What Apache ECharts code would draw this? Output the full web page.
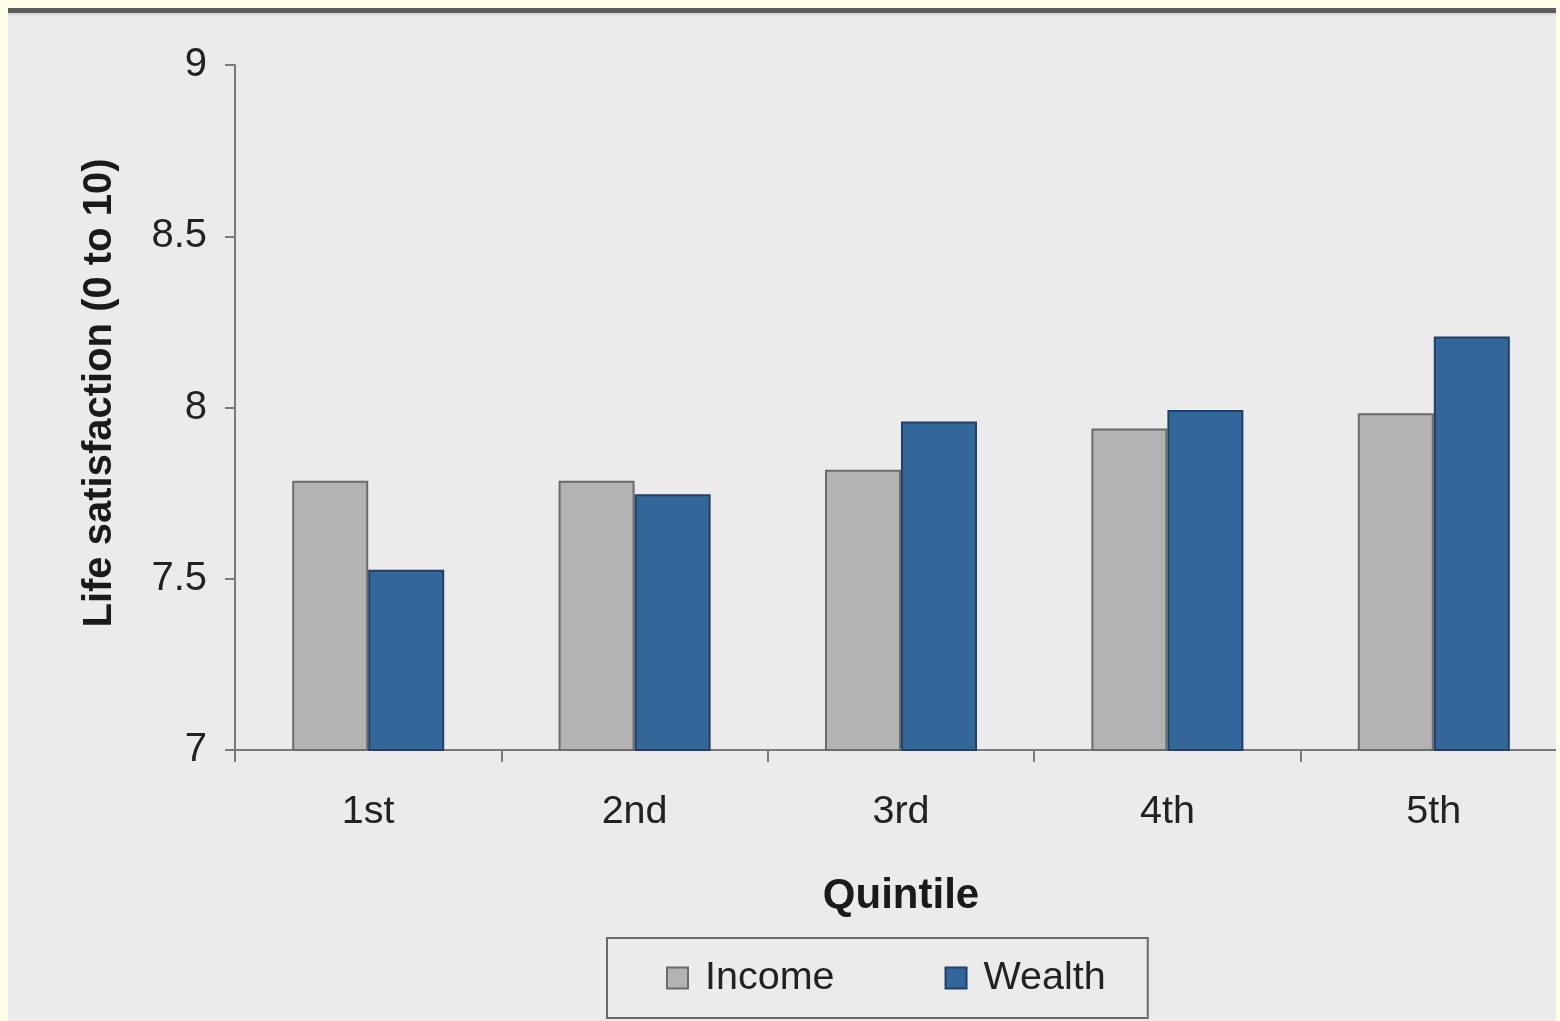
<!DOCTYPE html>
<html>
<head>
<meta charset="utf-8">
<script src="https://cdn.jsdelivr.net/npm/echarts@6/dist/echarts.min.js"></script>
<style>
html,body{margin:0;padding:0;background:#fefde7;overflow:hidden;}
#c{width:1600px;height:1021px;}
</style>
</head>
<body>
<div id="c"></div>
<script>
const categories = ['1st', '2nd', '3rd', '4th', '5th'];
const incomeValues = [7.786, 7.786, 7.818, 7.939, 7.983];
const wealthValues = [7.526, 7.747, 7.959, 7.993, 8.207];
const yTicks = [7, 7.5, 8, 8.5, 9];
const yTitle = 'Life satisfaction (0 to 10)';
const xTitle = 'Quintile';

const FONT = '"Liberation Sans", Arial, sans-serif';
const chart = echarts.init(document.getElementById('c'), null, {renderer: 'canvas'});
chart.setOption({
  backgroundColor: '#fefde7',
  animation: false,
  graphic: [
    {type: 'rect', z: -10, silent: true, shape: {x: 8, y: 13, width: 1548, height: 1010}, style: {fill: '#ebebeb'}},
    {type: 'rect', z: -9, silent: true, shape: {x: 8, y: 8, width: 1548, height: 5}, style: {fill: '#5c5c5c'}},
    {type: 'rect', z: -9, silent: true, shape: {x: 8, y: 13, width: 1548, height: 2}, style: {fill: '#d8d8d8'}},
    {type: 'rect', z: 100, silent: true, shape: {x: 1556, y: 0, width: 50, height: 1021}, style: {fill: '#fefde7'}},
    {type: 'text', z: 10, silent: true, x: 100, y: 393, rotation: Math.PI / 2,
      style: {text: yTitle, font: 'bold 40px ' + FONT, fill: '#1a1a1a', textAlign: 'center', textVerticalAlign: 'middle'}}
  ],
  grid: {left: 235, top: 65, width: 1332, bottom: 271, containLabel: false},
  legend: {
    left: 607, top: 938,
    data: ['Income', 'Wealth'],
    icon: 'rect',
    itemWidth: 21, itemHeight: 21,
    itemGap: 110,
    padding: [20, 42, 20, 59],
    borderColor: '#6a6a6a', borderWidth: 2,
    backgroundColor: '#ebebeb',
    textStyle: {fontFamily: FONT, fontSize: 39.5, color: '#222', lineHeight: 40, padding: [0, 0, 0, 12]}
  },
  xAxis: {
    type: 'category',
    data: categories,
    name: xTitle,
    nameLocation: 'middle',
    nameGap: 125,
    nameTextStyle: {fontFamily: FONT, fontSize: 42, fontWeight: 'bold', color: '#1a1a1a'},
    axisLine: {lineStyle: {color: '#7a7a7a', width: 2}},
    axisTick: {show: true, length: 12, lineStyle: {color: '#7a7a7a', width: 2}},
    axisLabel: {fontFamily: FONT, fontSize: 39.5, color: '#222', margin: 42}
  },
  yAxis: {
    type: 'value',
    min: 7, max: 9, interval: 0.5,
    axisLine: {show: true, lineStyle: {color: '#7a7a7a', width: 2}},
    axisTick: {show: true, length: 10, lineStyle: {color: '#7a7a7a', width: 2}},
    splitLine: {show: false},
    axisLabel: {fontFamily: FONT, fontSize: 40, color: '#222', margin: 28,
      formatter: v => yTicks.indexOf(v) >= 0 ? String(v) : ''}
  },
  series: [
    {name: 'Income', type: 'bar', data: incomeValues, barWidth: 76, barGap: '0%',
      itemStyle: {color: '#b3b3b3', borderColor: '#6b6b6b', borderWidth: 2}},
    {name: 'Wealth', type: 'bar', data: wealthValues, barWidth: 76, barGap: '0%',
      itemStyle: {color: '#336699', borderColor: '#243f66', borderWidth: 2}}
  ]
});
</script>
</body>
</html>
